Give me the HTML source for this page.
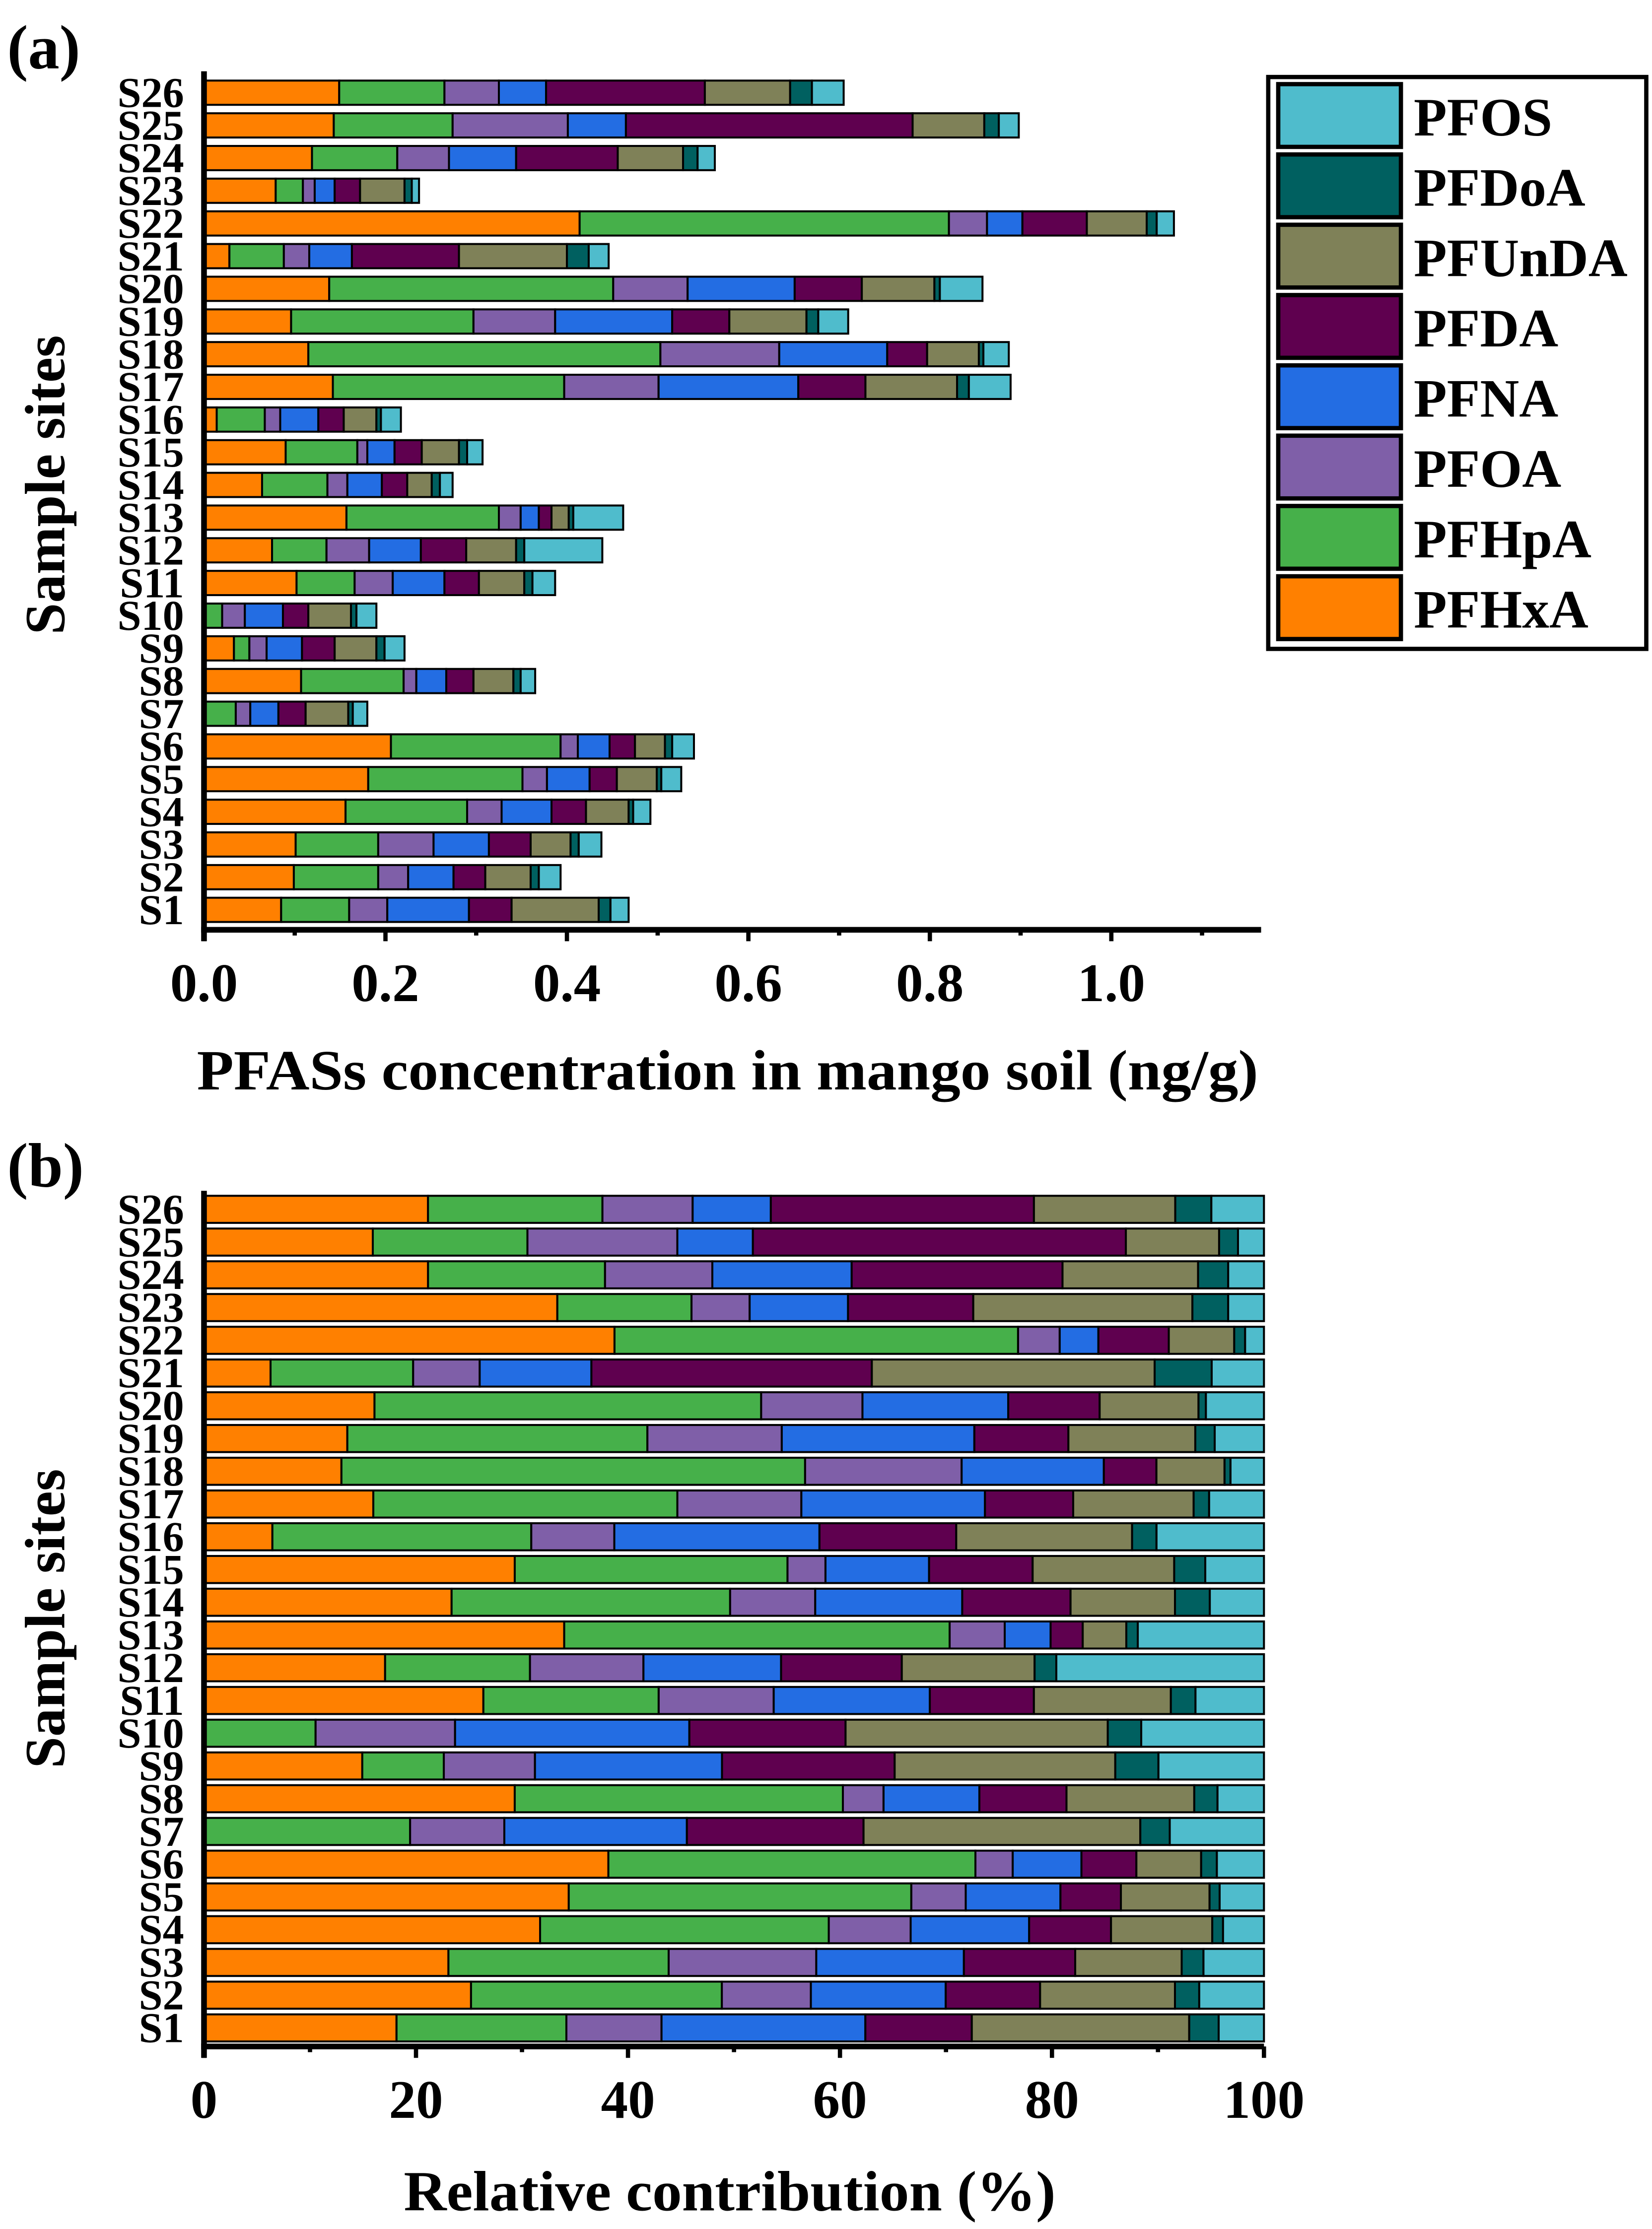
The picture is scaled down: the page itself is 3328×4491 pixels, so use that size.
<!DOCTYPE html>
<html><head><meta charset="utf-8"><style>
html,body{margin:0;padding:0;background:#fff}
svg{display:block}
text{font-family:"Liberation Serif",serif;font-weight:bold;fill:#000}
</style></head><body>
<svg id="chart" xmlns="http://www.w3.org/2000/svg" width="3328" height="4491" viewBox="0 0 1158 1563" preserveAspectRatio="none">
<rect x="0" y="0" width="1158" height="1563" fill="#fff"/>
<text x="5" y="48" font-size="44">(a)</text>
<text x="5" y="832" font-size="44">(b)</text>
<text x="138" y="764" font-size="40" textLength="744" lengthAdjust="spacingAndGlyphs">PFASs concentration in mango soil (ng/g)</text>
<text x="283" y="1550" font-size="40" textLength="457" lengthAdjust="spacingAndGlyphs">Relative contribution (%)</text>
<text transform="translate(45,340) rotate(-90)" font-size="40" text-anchor="middle">Sample sites</text>
<text transform="translate(45,1135) rotate(-90)" font-size="40" text-anchor="middle">Sample sites</text>
<g id="ga"></g>
<g id="gb"></g>
<g id="legend"></g>
</svg>
<script>
const sites = ["S1","S2","S3","S4","S5","S6","S7","S8","S9","S10","S11","S12","S13","S14","S15","S16","S17","S18","S19","S20","S21","S22","S23","S24","S25","S26"];
const seriesNames = ["PFHxA","PFHpA","PFOA","PFNA","PFDA","PFUnDA","PFDoA","PFOS"];
const seriesColors = ["#ff8000","#46b04a","#7f5fa8","#236de3","#5f004f","#7f8158","#006060","#4fbccc"];
const PFHxA = [0.085,0.099,0.101,0.156,0.181,0.206,0,0.107,0.033,0,0.102,0.075,0.157,0.064,0.090,0.014,0.142,0.115,0.096,0.138,0.028,0.414,0.079,0.119,0.143,0.149];
const PFHpA = [0.075,0.093,0.091,0.134,0.170,0.187,0.035,0.113,0.017,0.020,0.064,0.060,0.168,0.072,0.079,0.053,0.255,0.388,0.201,0.313,0.060,0.407,0.030,0.094,0.131,0.116];
const PFOA = [0.042,0.033,0.061,0.038,0.027,0.019,0.016,0.014,0.019,0.025,0.042,0.047,0.024,0.022,0.011,0.017,0.104,0.131,0.090,0.082,0.028,0.042,0.013,0.057,0.127,0.060];
const PFNA = [0.090,0.050,0.061,0.055,0.047,0.035,0.031,0.033,0.039,0.042,0.057,0.057,0.020,0.038,0.030,0.042,0.154,0.119,0.129,0.118,0.047,0.039,0.022,0.074,0.064,0.052];
const PFDA = [0.047,0.035,0.046,0.038,0.030,0.028,0.030,0.030,0.036,0.028,0.038,0.050,0.014,0.028,0.030,0.028,0.074,0.044,0.063,0.074,0.118,0.071,0.028,0.112,0.316,0.175];
const PFUnDA = [0.096,0.050,0.044,0.047,0.044,0.033,0.047,0.044,0.046,0.047,0.050,0.055,0.019,0.027,0.041,0.036,0.101,0.057,0.085,0.080,0.119,0.066,0.049,0.072,0.079,0.094];
const PFDoA = [0.013,0.009,0.009,0.005,0.005,0.008,0.005,0.008,0.009,0.006,0.009,0.009,0.005,0.009,0.009,0.005,0.013,0.005,0.013,0.006,0.024,0.011,0.008,0.016,0.016,0.024];
const PFOS = [0.020,0.024,0.025,0.019,0.022,0.024,0.016,0.016,0.022,0.022,0.025,0.086,0.055,0.014,0.017,0.022,0.046,0.028,0.033,0.047,0.022,0.019,0.008,0.019,0.022,0.035];
const ticksA = ["0.0","0.2","0.4","0.6","0.8","1.0"];
const tickValsA = [0,0.2,0.4,0.6,0.8,1.0];
const ticksB = ["0","20","40","60","80","100"];
const tickValsB = [0,20,40,60,80,100];

const series = [PFHxA,PFHpA,PFOA,PFNA,PFDA,PFUnDA,PFDoA,PFOS];
const NS = "http://www.w3.org/2000/svg";
function mk(tag, attrs, parent){const e=document.createElementNS(NS,tag);for(const k in attrs)e.setAttribute(k,attrs[k]);parent.appendChild(e);return e;}

function panel(g, cfg){
  const xs = v => cfg.x0 + (v - cfg.vmin) * cfg.pxPer;
  const ys = i => cfg.yS1 - i * cfg.step;
  for(let i=0;i<sites.length;i++){
    let total = 0; for(const s of series) total += s[i];
    let cum = 0;
    for(let k=0;k<series.length;k++){
      let v = series[k][i]; if(cfg.pct) v = v/total*100;
      const x1 = xs(cum), x2 = xs(cum+v); cum += v;
      if(v<=0) continue;
      const r = mk("rect",{x:x1,y:ys(i)-cfg.bh/2,width:x2-x1,height:cfg.bh,fill:seriesColors[k],stroke:"#000","stroke-width":1.4},g);
      
      
    }
    const t = mk("text",{x:cfg.x0-14,y:ys(i)+10,"font-size":30,"text-anchor":"end"},g);
    t.textContent = sites[i];
    
    
  }
  const ax = mk("line",{x1:cfg.x0,y1:cfg.yTop,x2:cfg.x0,y2:cfg.yAxis+cfg.tickLen,stroke:"#000","stroke-width":4},g);
  
  
  const bx = mk("line",{x1:cfg.x0-2,y1:cfg.yAxis,x2:cfg.xEnd,y2:cfg.yAxis,stroke:"#000","stroke-width":4},g);
  
  
  for(let j=0;j<cfg.tickVals.length;j++){
    const x = xs(cfg.tickVals[j]);
    mk("line",{x1:x,y1:cfg.yAxis,x2:x,y2:cfg.yAxis+cfg.tickLen,stroke:"#000","stroke-width":3},g);
    if(j<cfg.tickVals.length-1 || cfg.minorLast){
      const xm = xs(cfg.tickVals[j] + cfg.minorStep);
      if(xm<=cfg.xEnd) mk("line",{x1:xm,y1:cfg.yAxis,x2:xm,y2:cfg.yAxis+cfg.tickLen/2,stroke:"#000","stroke-width":3},g);
    }
    const t = mk("text",{x:x,y:cfg.yAxis+50,"font-size":38,"text-anchor":"middle"},g);
    t.textContent = cfg.tickLabels[j];
    
    
  }
}
panel(document.getElementById("ga"),{x0:143,vmin:0,pxPer:636,yS1:638,step:22.92,bh:17,yTop:50,yAxis:652,xEnd:884,tickLen:8,tickVals:tickValsA,tickLabels:ticksA,minorStep:0.1,minorLast:true,pct:false});
panel(document.getElementById("gb"),{x0:143,vmin:0,pxPer:7.43,yS1:1422,step:22.96,bh:19,yTop:835,yAxis:1435,xEnd:886,tickLen:8,tickVals:tickValsB,tickLabels:ticksB,minorStep:10,minorLast:false,pct:true});

const lg = document.getElementById("legend");
mk("rect",{x:889,y:54,width:265,height:401,fill:"#fff",stroke:"#000","stroke-width":3},lg);
for(let k=0;k<8;k++){
  const idx = 7-k;
  const y = 59 + k*49.3;
  const sw = mk("rect",{x:896,y:y,width:86,height:44,fill:seriesColors[idx],stroke:"#000","stroke-width":3},lg);
  
  
  const t = mk("text",{x:991,y:y+36,"font-size":38},lg);
  t.textContent = seriesNames[idx];
  
  
}
</script>
</body></html>
